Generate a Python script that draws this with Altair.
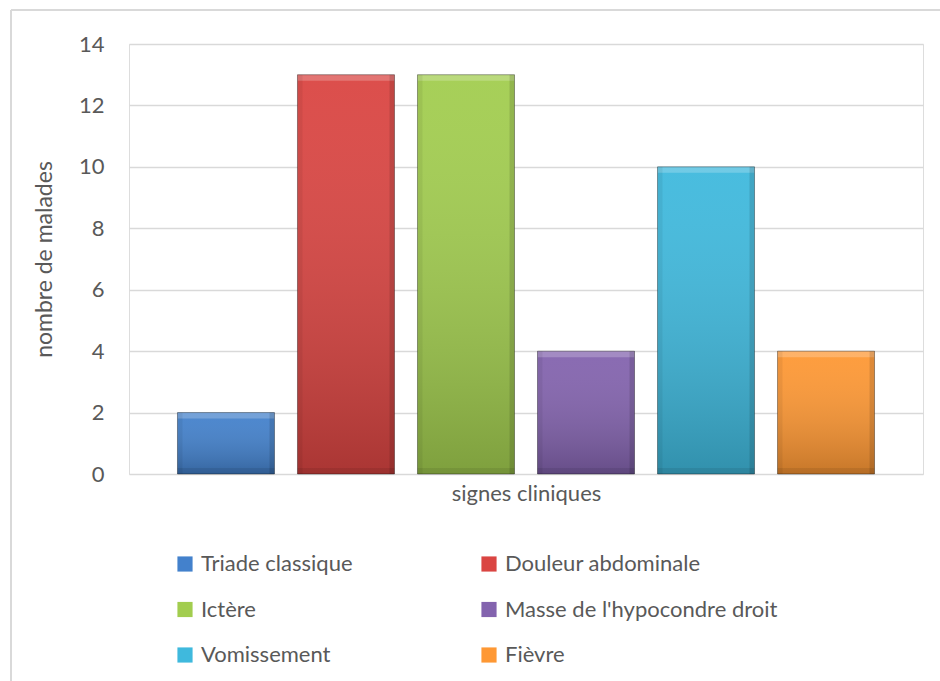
import altair as alt
import pandas as pd

# Clinical signs and number of patients
signes = ["Triade classique", "Douleur abdominale", "Ictère",
          "Masse de l'hypocondre droit", "Vomissement", "Fièvre"]
malades = [2, 13, 13, 4, 10, 4]
couleurs = ["#4381CC", "#DA4542", "#A2CD4F", "#8363AE", "#3FB9DD", "#FE9834"]

df = pd.DataFrame({"signe": signes, "n": malades})

FONT = "Lato"
TXT = "#595959"
W, H = 794, 430
BAR_W = 97

x = alt.X("signe:N", sort=signes,
          scale=alt.Scale(domain=signes, paddingInner=0.19, paddingOuter=0.403),
          axis=alt.Axis(labels=False, ticks=False, domain=False, grid=False,
                        title="signes cliniques", titleFontSize=22,
                        titleFont=FONT, titleColor=TXT, titleFontWeight="normal",
                        titlePadding=9))
y = alt.Y("n:Q", scale=alt.Scale(domain=[0, 14]),
          axis=alt.Axis(values=[0, 2, 4, 6, 8, 10, 12, 14], ticks=False, domain=False,
                        gridColor="#D9D9D9", gridWidth=1.5,
                        labelFontSize=22, labelFont=FONT, labelColor=TXT, labelPadding=25,
                        title="nombre de malades", titleFontSize=23, titleFont=FONT,
                        titleColor=TXT, titleFontWeight="normal", titlePadding=22))

base = alt.Chart(df)
xs = alt.X("signe:N", sort=signes)

bars = base.mark_bar(width=BAR_W).encode(
    x=x, y=y,
    color=alt.Color("signe:N", sort=signes,
                    scale=alt.Scale(domain=signes, range=couleurs),
                    legend=alt.Legend(title=None, orient="none", legendX=45, legendY=509,
                                      direction="horizontal",
                                      columns=2, columnPadding=125, rowPadding=23.5,
                                      symbolType="square", symbolSize=230,
                                      symbolStrokeWidth=0, labelFont=FONT,
                                      labelFontSize=22, labelColor=TXT,
                                      labelOffset=5, labelLimit=400)),
)

# vertical shading, darker toward the foot of each bar
shade = base.mark_bar(
    width=BAR_W,
    color=alt.LinearGradient(gradient="linear", x1=0, x2=0, y1=0, y2=1,
                             stops=[alt.GradientStop(color="rgba(255,255,255,0.05)", offset=0),
                                    alt.GradientStop(color="rgba(0,0,0,0.22)", offset=1)]),
).encode(x=xs, y="n:Q")

# bevel: light top edge, dark foot and sides
top = base.mark_bar(width=BAR_W, color="white", opacity=0.22, y2Offset=6).encode(
    x=xs, y="n:Q", y2="n:Q")
foot = base.mark_bar(width=BAR_W, color="black", opacity=0.08, yOffset=-6).encode(
    x=xs, y=alt.datum(0), y2=alt.datum(0))
left = base.mark_bar(width=5, xOffset=-(BAR_W / 2 - 2.5), color="black", opacity=0.06).encode(
    x=xs, y="n:Q")
right = base.mark_bar(width=5, xOffset=(BAR_W / 2 - 2.5), color="black", opacity=0.12).encode(
    x=xs, y="n:Q")
outline = base.mark_bar(width=BAR_W, fillOpacity=0, stroke="black", strokeOpacity=0.35,
                        strokeWidth=1).encode(x=xs, y="n:Q")

# frame around the chart area
frame_left = alt.Chart(df).mark_rule(color="#D9D9D9", strokeWidth=2).encode(
    x=alt.value(-118), y=alt.value(-34), y2=alt.value(700))
frame_top = alt.Chart(df).mark_rule(color="#D9D9D9", strokeWidth=2).encode(
    x=alt.value(-118), x2=alt.value(830), y=alt.value(-34))

chart = alt.layer(bars, shade, top, foot, left, right, outline, frame_left, frame_top).properties(
    width=W, height=H,
    autosize=alt.AutoSizeParams(type="none"),
    padding={"left": 129, "top": 44, "right": 17, "bottom": 207},
).configure_view(stroke=None).configure(background="white")

chart.save("out.html", embed_options={"renderer": "svg", "actions": False})
